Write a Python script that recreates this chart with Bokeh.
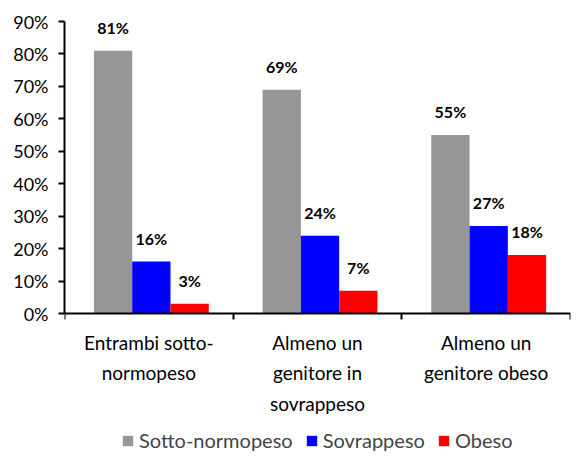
import numpy as np
from bokeh.plotting import figure
from bokeh.models import (ColumnDataSource, FixedTicker, Legend, LegendItem,
                          Range1d, NumeralTickFormatter)
from bokeh.transform import dodge
from bokeh.embed import file_html
from bokeh.resources import INLINE
from bokeh.core.properties import value

categories = ["Entrambi sotto-\nnormopeso", "Almeno un\ngenitore in\nsovrappeso", "Almeno un\ngenitore obeso"]
sotto = [0.81, 0.69, 0.55]
sovra = [0.16, 0.24, 0.27]
obeso = [0.03, 0.07, 0.18]
series_names = ["Sotto-normopeso", "Sovrappeso", "Obeso"]
colors = ["#969696", "#0000FF", "#FF0000"]
y_ticks = [0.0, 0.1, 0.2, 0.3, 0.4, 0.5, 0.6, 0.7, 0.8, 0.9]

FONT = "Lato"
centers = [i + 0.5 for i in range(len(categories))]
src = ColumnDataSource(dict(
    center=centers,
    sotto=sotto, sovra=sovra, obeso=obeso,
    sotto_lbl=[f"{round(v*100)}%" for v in sotto],
    sovra_lbl=[f"{round(v*100)}%" for v in sovra],
    obeso_lbl=[f"{round(v*100)}%" for v in obeso],
))

# plot area: 0..90% over 292 px, with room below 0 for category labels + legend
PX_PER_UNIT = 292 / 0.9
BELOW_PX = 139
p = figure(frame_width=506, frame_height=292 + BELOW_PX, output_backend="svg",
           toolbar_location=None,
           x_range=Range1d(0, 3), y_range=Range1d(-BELOW_PX / PX_PER_UNIT, 0.9),
           min_border_left=64, min_border_right=1, min_border_top=21,
           min_border_bottom=0)
p.outline_line_color = None
p.xgrid.visible = False
p.ygrid.visible = False
p.background_fill_color = "white"
p.border_fill_color = "white"

bw = 0.227
shift = 0.015
fields = ["sotto", "sovra", "obeso"]
renderers = []
for k, (f, c) in enumerate(zip(fields, colors)):
    off = (k - 1) * bw + shift
    r = p.vbar(x=dodge("center", off, range=p.x_range), top=f, bottom=0, width=bw,
               source=src, fill_color=c, line_color=None)
    renderers.append(r)
    p.text(x=dodge("center", off, range=p.x_range), y=f, text=f + "_lbl",
           source=src, text_align="center", text_baseline="bottom",
           y_offset=-14, text_font=value(FONT), text_font_style="bold",
           text_font_size="16px", text_color="black")

# x axis (drawn at y = 0)
xa = p.xaxis[0]
xa.fixed_location = 0
xa.ticker = FixedTicker(ticks=centers, minor_ticks=[0, 1, 2, 3])
xa.major_label_overrides = {c: lab for c, lab in zip(centers, categories)}
xa.major_tick_line_color = None
xa.minor_tick_line_color = "black"
xa.minor_tick_line_width = 2
xa.minor_tick_out = 6
xa.minor_tick_in = 0
xa.axis_line_color = "black"
xa.axis_line_width = 2
xa.major_label_text_font = FONT
xa.major_label_text_font_size = "19px"
xa.major_label_text_line_height = 1.34
xa.major_label_standoff = 11
xa.major_label_text_color = "black"

# y axis
ya = p.yaxis[0]
ya.bounds = (0, 0.9)
ya.ticker = FixedTicker(ticks=y_ticks, minor_ticks=[])
ya.formatter = NumeralTickFormatter(format="0%")
ya.axis_line_color = "black"
ya.axis_line_width = 2
ya.major_tick_line_color = "black"
ya.major_tick_line_width = 2
ya.major_tick_out = 6
ya.major_tick_in = 0
ya.minor_tick_line_color = None
ya.major_label_text_font = FONT
ya.major_label_text_font_size = "18px"
ya.major_label_standoff = 10
ya.major_label_text_color = "black"

legend = Legend(items=[LegendItem(label=n, renderers=[r]) for n, r in zip(series_names, renderers)],
                orientation="horizontal", location=(57, 0))
legend.label_text_font = FONT
legend.label_text_font_size = "20px"
legend.glyph_width = 13
legend.glyph_height = 13
legend.label_standoff = 5
legend.spacing = 12
legend.border_line_color = None
legend.background_fill_alpha = 0
legend.padding = 0
legend.margin = 0
p.add_layout(legend, "center")

open("out.html", "w").write(file_html(p, INLINE))
